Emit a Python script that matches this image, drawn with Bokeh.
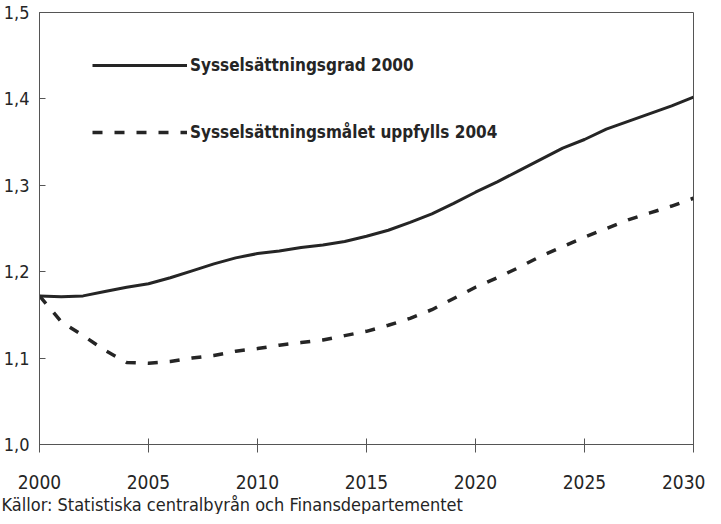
from bokeh.plotting import figure
from bokeh.models import Range1d, FixedTicker, Legend, LegendItem, Title
from bokeh.embed import file_html
from bokeh.resources import INLINE

years = [2000, 2001, 2002, 2003, 2004, 2005, 2006, 2007, 2008, 2009, 2010,
         2011, 2012, 2013, 2014, 2015, 2016, 2017, 2018, 2019, 2020,
         2021, 2022, 2023, 2024, 2025, 2026, 2027, 2028, 2029, 2030]
grad_2000 = [1.172, 1.171, 1.172, 1.177, 1.182, 1.186, 1.193, 1.201, 1.209, 1.216, 1.221,
             1.224, 1.228, 1.231, 1.235, 1.241, 1.248, 1.257, 1.267, 1.279, 1.292,
             1.304, 1.317, 1.330, 1.343, 1.353, 1.365, 1.374, 1.383, 1.392, 1.402]
malet_2004 = [1.172, 1.142, 1.126, 1.109, 1.095, 1.094, 1.096, 1.100, 1.103, 1.108, 1.111,
              1.115, 1.118, 1.121, 1.126, 1.131, 1.138, 1.146, 1.156, 1.169, 1.182,
              1.193, 1.205, 1.218, 1.229, 1.240, 1.250, 1.260, 1.268, 1.276, 1.285]
x_ticks = [2000, 2005, 2010, 2015, 2020, 2025, 2030]
y_ticks = [1.0, 1.1, 1.2, 1.3, 1.4, 1.5]
y_labels = ["1,0", "1,1", "1,2", "1,3", "1,4", "1,5"]
series_names = ["Sysselsättningsgrad 2000", "Sysselsättningsmålet uppfylls 2004"]
source_text = "Källor: Statistiska centralbyrån och Finansdepartementet"

FONT = "DejaVu Sans Condensed, Roboto"
INK = "#252525"
AX = "#555555"

p = figure(width=705, height=514, output_backend="svg", toolbar_location=None,
           x_range=Range1d(2000, 2030), y_range=Range1d(1.0, 1.5),
           min_border_left=38, min_border_right=12, min_border_top=12, min_border_bottom=40)
p.grid.visible = False
p.outline_line_color = AX
p.outline_line_width = 1

r1 = p.line(years, grad_2000, line_color=INK, line_width=3)
r2 = p.line(years, malet_2004, line_color=INK, line_width=3.5, line_dash="10 12")

p.xaxis.ticker = FixedTicker(ticks=x_ticks)
p.yaxis.ticker = FixedTicker(ticks=y_ticks)
p.yaxis.major_label_overrides = {t: l for t, l in zip(y_ticks, y_labels)}
for ax in (p.xaxis, p.yaxis):
    ax.axis_line_color = AX
    ax.major_tick_line_color = AX
    ax.minor_tick_line_color = None
    ax.major_label_text_font = FONT
    ax.major_label_text_color = INK
p.xaxis.major_tick_in = 6
p.xaxis.major_tick_out = 8
p.xaxis.major_label_standoff = 22
p.xaxis.major_label_text_font_size = "19px"
p.yaxis.major_tick_in = 6
p.yaxis.major_tick_out = 0
p.yaxis.major_label_standoff = 10
p.yaxis.major_label_text_font_size = "18px"

legend = Legend(items=[LegendItem(label=series_names[0], renderers=[r1]),
                       LegendItem(label=series_names[1], renderers=[r2])],
                location=(53, 300), orientation="vertical",
                glyph_width=95, glyph_height=24, label_height=24, label_standoff=3,
                spacing=43, padding=0, margin=0,
                border_line_color=None, background_fill_alpha=0,
                label_text_font=FONT, label_text_font_style="bold",
                label_text_font_size="17px", label_text_color=INK)
p.add_layout(legend)

p.add_layout(Title(text=source_text, align="left", offset=-38, standoff=0,
                   text_font=FONT, text_font_size="18px", text_color=INK,
                   text_font_style="normal"), "below")

open("out.html", "w").write(file_html(p, INLINE))
